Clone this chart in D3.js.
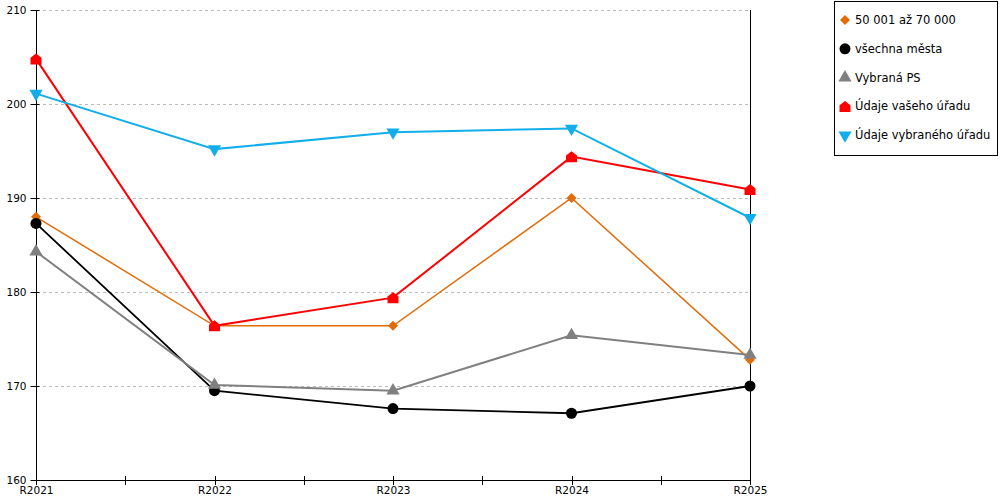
<!DOCTYPE html>
<html><head><meta charset="utf-8">
<script src="https://cdn.jsdelivr.net/npm/d3@7"></script>
<style>body{margin:0;background:#fff;} svg{display:block;font-family:"DejaVu Sans",Verdana,sans-serif;}</style>
</head><body>
<svg id="c" width="1000" height="500"></svg>
<script>
const categories = ["R2021","R2022","R2023","R2024","R2025"];
const yTicks = [160,170,180,190,200,210];
const seriesNames = ["50 001 až 70 000","všechna města","Vybraná PS","Údaje vašeho úřadu","Údaje vybraného úřadu"];
const valuesOrange = [188.0,176.4,176.4,190.0,172.8];
const valuesBlack  = [187.3,169.5,167.6,167.1,170.0];
const valuesGray   = [184.3,170.1,169.5,175.4,173.3];
const valuesRed    = [204.8,176.4,179.4,194.4,190.9];
const valuesBlue   = [201.1,195.2,197.0,197.4,187.9];

const colors = ["#E36C0A","#000000","#808080","#FF0000","#12AEEA"];
const widths = [1.5,1.8,2,2,2];
const allValues = [valuesOrange,valuesBlack,valuesGray,valuesRed,valuesBlue];

const svg = d3.select("#c");
const L=36,R=750,T=10,B=480;
const x = d3.scalePoint().domain(categories).range([L,R]);
const y = d3.scaleLinear().domain([160,210]).range([B,T]);

// gridlines
svg.append("g").selectAll("line").data(yTicks.filter(t=>t>160)).join("line")
  .attr("x1",L+1).attr("x2",R-2).attr("y1",d=>y(d)+0.5).attr("y2",d=>y(d)+0.5)
  .attr("stroke","#bbbbbb").attr("stroke-dasharray","3,3");

// y axis
const ya = svg.append("g").attr("transform",`translate(${L+0.5},0)`)
  .call(d3.axisLeft(y).tickValues(yTicks).tickSize(6).tickPadding(4));
ya.select(".domain").attr("d",`M0,${T}V${B}`);
ya.selectAll(".tick line").attr("x1",-6).attr("x2",3);
ya.selectAll("text").attr("font-size",10.5).attr("fill","#000").attr("font-family","DejaVu Sans, Verdana, sans-serif");

// right axis line
svg.append("line").attr("x1",R+0.5).attr("x2",R+0.5).attr("y1",T).attr("y2",B).attr("stroke","#000");

// x axis
const xa = svg.append("g").attr("transform",`translate(0,${B+0.5})`)
  .call(d3.axisBottom(x).tickSize(0).tickPadding(6));
xa.select(".domain").attr("d",`M${L},0H${R}`);
xa.selectAll("text").attr("font-size",10.5).attr("fill","#000").attr("font-family","DejaVu Sans, Verdana, sans-serif");
// tick marks at categories and midpoints
const step = x.step();
const tickPos = [];
categories.forEach((c,i)=>{tickPos.push(x(c)); if(i<categories.length-1) tickPos.push(x(c)+step/2);});
svg.append("g").selectAll("line").data(tickPos).join("line")
  .attr("x1",d=>Math.round(d)+0.5).attr("x2",d=>Math.round(d)+0.5)
  .attr("y1",B-4).attr("y2",B+5).attr("stroke","#000");

// markers
function house(s){ // s = half width
  return `M${-s},${s}L${-s},${-s*0.2}L0,${-s}L${s},${-s*0.2}L${s},${s}Z`;
}
const markerPaths = [
  d3.symbol(d3.symbolSquare,50)(),
  d3.symbol(d3.symbolCircle,95)(),
  d3.symbol(d3.symbolTriangle,75)(),
  house(5.5),
  d3.symbol(d3.symbolTriangle,75)()
];
const markerRot = [45,0,0,0,180];

const line = d3.line().x((d,i)=>x(categories[i])).y(d=>y(d));
allValues.forEach((vals,k)=>{
  const g = svg.append("g");
  g.append("path").datum(vals).attr("d",line).attr("fill","none")
    .attr("stroke",colors[k]).attr("stroke-width",widths[k]);
  g.selectAll("path.m").data(vals).join("path").attr("class","m")
    .attr("d",markerPaths[k]).attr("fill",colors[k])
    .attr("transform",(d,i)=>`translate(${x(categories[i])},${y(d)}) rotate(${markerRot[k]})`);
});

// legend
const lg = svg.append("g");
lg.append("rect").attr("x",834.5).attr("y",1.5).attr("width",163).attr("height",154)
  .attr("fill","#fff").attr("stroke","#000");
seriesNames.forEach((n,k)=>{
  const cy = 20 + k*28.8;
  lg.append("path").attr("d",markerPaths[k]).attr("fill",colors[k])
    .attr("transform",`translate(845,${cy}) rotate(${markerRot[k]})`);
  lg.append("text").attr("x",855).attr("y",cy+4).attr("font-size",11.5).text(n);
});
</script>
</body></html>
